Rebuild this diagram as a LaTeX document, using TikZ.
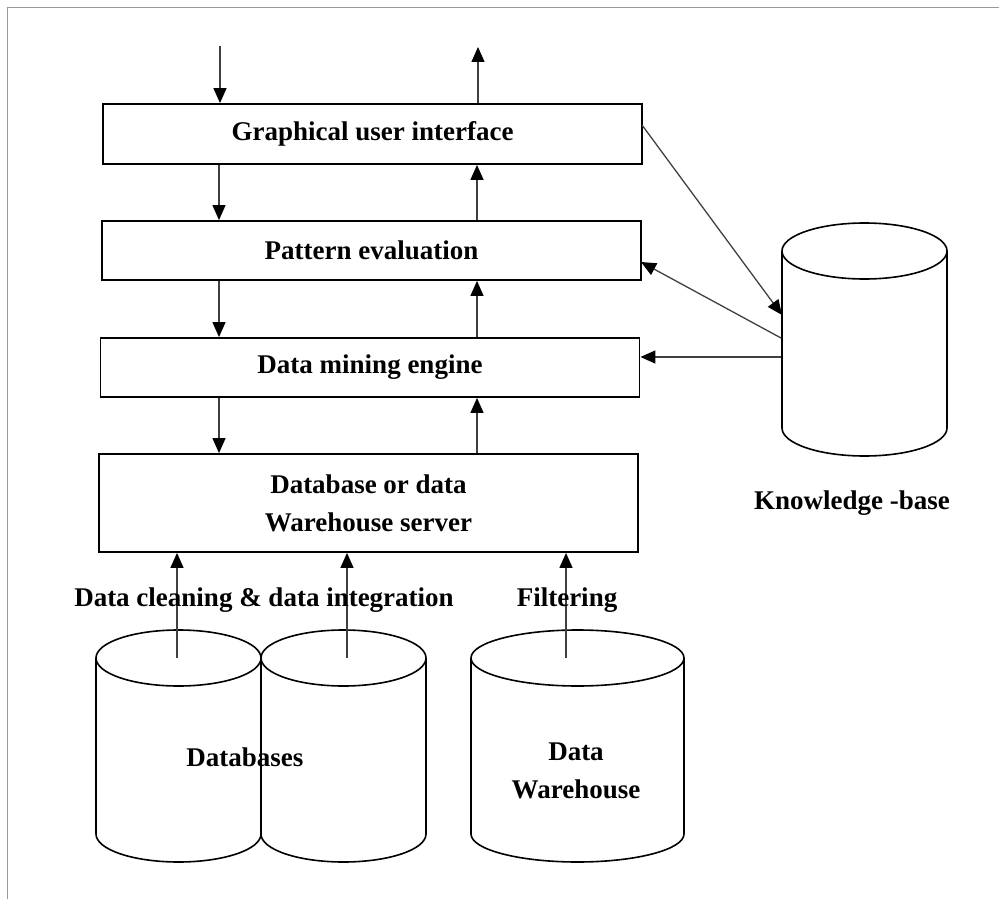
\documentclass[tikz,border=0pt]{standalone}
\usepackage{fontspec}
\setmainfont{Liberation Serif}
\usetikzlibrary{arrows.meta}

% vertical database drum: centre x, x radius, top y, bottom y, y radius
\newcommand\dbcyl[5]{%
  \draw[drum] (#1-#2,#3) -- (#1-#2,#4)
    arc[start angle=180,end angle=360,x radius=#2,y radius=#5] -- (#1+#2,#3);
  \draw[drum] (#1,#3) ellipse[x radius=#2,y radius=#5];
}

\begin{document}
\begin{tikzpicture}[x=1pt,y=1pt,
  layer/.style={draw=black,line width=1.8pt,inner sep=0pt,
    minimum width=539pt,font=\fontsize{27}{38}\selectfont\bfseries,align=center},
  lbl/.style={font=\fontsize{27}{38}\selectfont\bfseries,inner sep=0pt,align=center},
  flow/.style={draw=black!75,line width=1.3pt,
    -{Triangle[length=15pt,width=13pt,color=black]}},
  drum/.style={draw=black,line width=1.6pt},
  frame/.style={draw=black!40,line width=0.9pt}]

\useasboundingbox (0,0) rectangle (999,-899);

% page frame
\draw[frame] (999,-7) -- (7,-7) -- (7,-899);

% processing layers
\node[layer,minimum height=60pt] (gui) at (372.5,-134) {Graphical user interface};
\node[layer,minimum height=59pt] (pe)  at (371.5,-250.5) {Pattern evaluation};
\node[layer,minimum height=59pt] (dme) at (370,-367.5) {Data mining engine};
\node[layer,minimum height=98pt] (dbs) at (368.5,-503) {Database or data\\Warehouse server};

% storage drums
\dbcyl{864.5}{82.5}{-251}{-428}{28}
\dbcyl{178.5}{82.5}{-658}{-834}{28}
\dbcyl{343.5}{82.5}{-658}{-834}{28}
\dbcyl{577.5}{106.5}{-658}{-834}{28}

\node[lbl] (kbl) at (852,-503) {Knowledge -base};
\node[lbl] (dbl) at (245,-757) {Databases};
\node[lbl] (dwl) at (576,-771) {Data\\Warehouse};

% guide coordinates
\coordinate (inTop)  at (220,-46);
\coordinate (outTop) at (478,-47);
\coordinate (dn) at (219,0);
\coordinate (up) at (477,0);
\coordinate (kbIn)  at (782,-315);
\coordinate (kbPe)  at (781,-338);
\coordinate (kbDm)  at (781,-357);
\coordinate (guiOut) at (642,-125);
\coordinate (peIn)  at (641,-262);
\coordinate (s1) at (177,-658);
\coordinate (s2) at (347,-658);
\coordinate (s3) at (566,-658);

% downward and upward flows
\draw[flow] (inTop) -- (gui.north -| inTop);
\draw[flow] (gui.north -| outTop) -- (outTop);
\draw[flow] (gui.south -| dn) -- (pe.north -| dn);
\draw[flow] (pe.south -| dn) -- (dme.north -| dn);
\draw[flow] (dme.south -| dn) -- (dbs.north -| dn);
\draw[flow] (pe.north -| up) -- (gui.south -| up);
\draw[flow] (dme.north -| up) -- (pe.south -| up);
\draw[flow] (dbs.north -| up) -- (dme.south -| up);

% knowledge base links
\draw[flow] (guiOut) -- (kbIn);
\draw[flow] (kbPe) -- (peIn);
\draw[flow] (kbDm) -- (dme.east |- kbDm);

% sources into the server
\draw[flow] (s1) -- (dbs.south -| s1);
\draw[flow] (s2) -- (dbs.south -| s2);
\draw[flow] (s3) -- (dbs.south -| s3);

\node[lbl] (clean) at (264,-600) {Data cleaning \& data integration};
\node[lbl] (filt) at (567,-600) {Filtering};

\end{tikzpicture}
\end{document}
